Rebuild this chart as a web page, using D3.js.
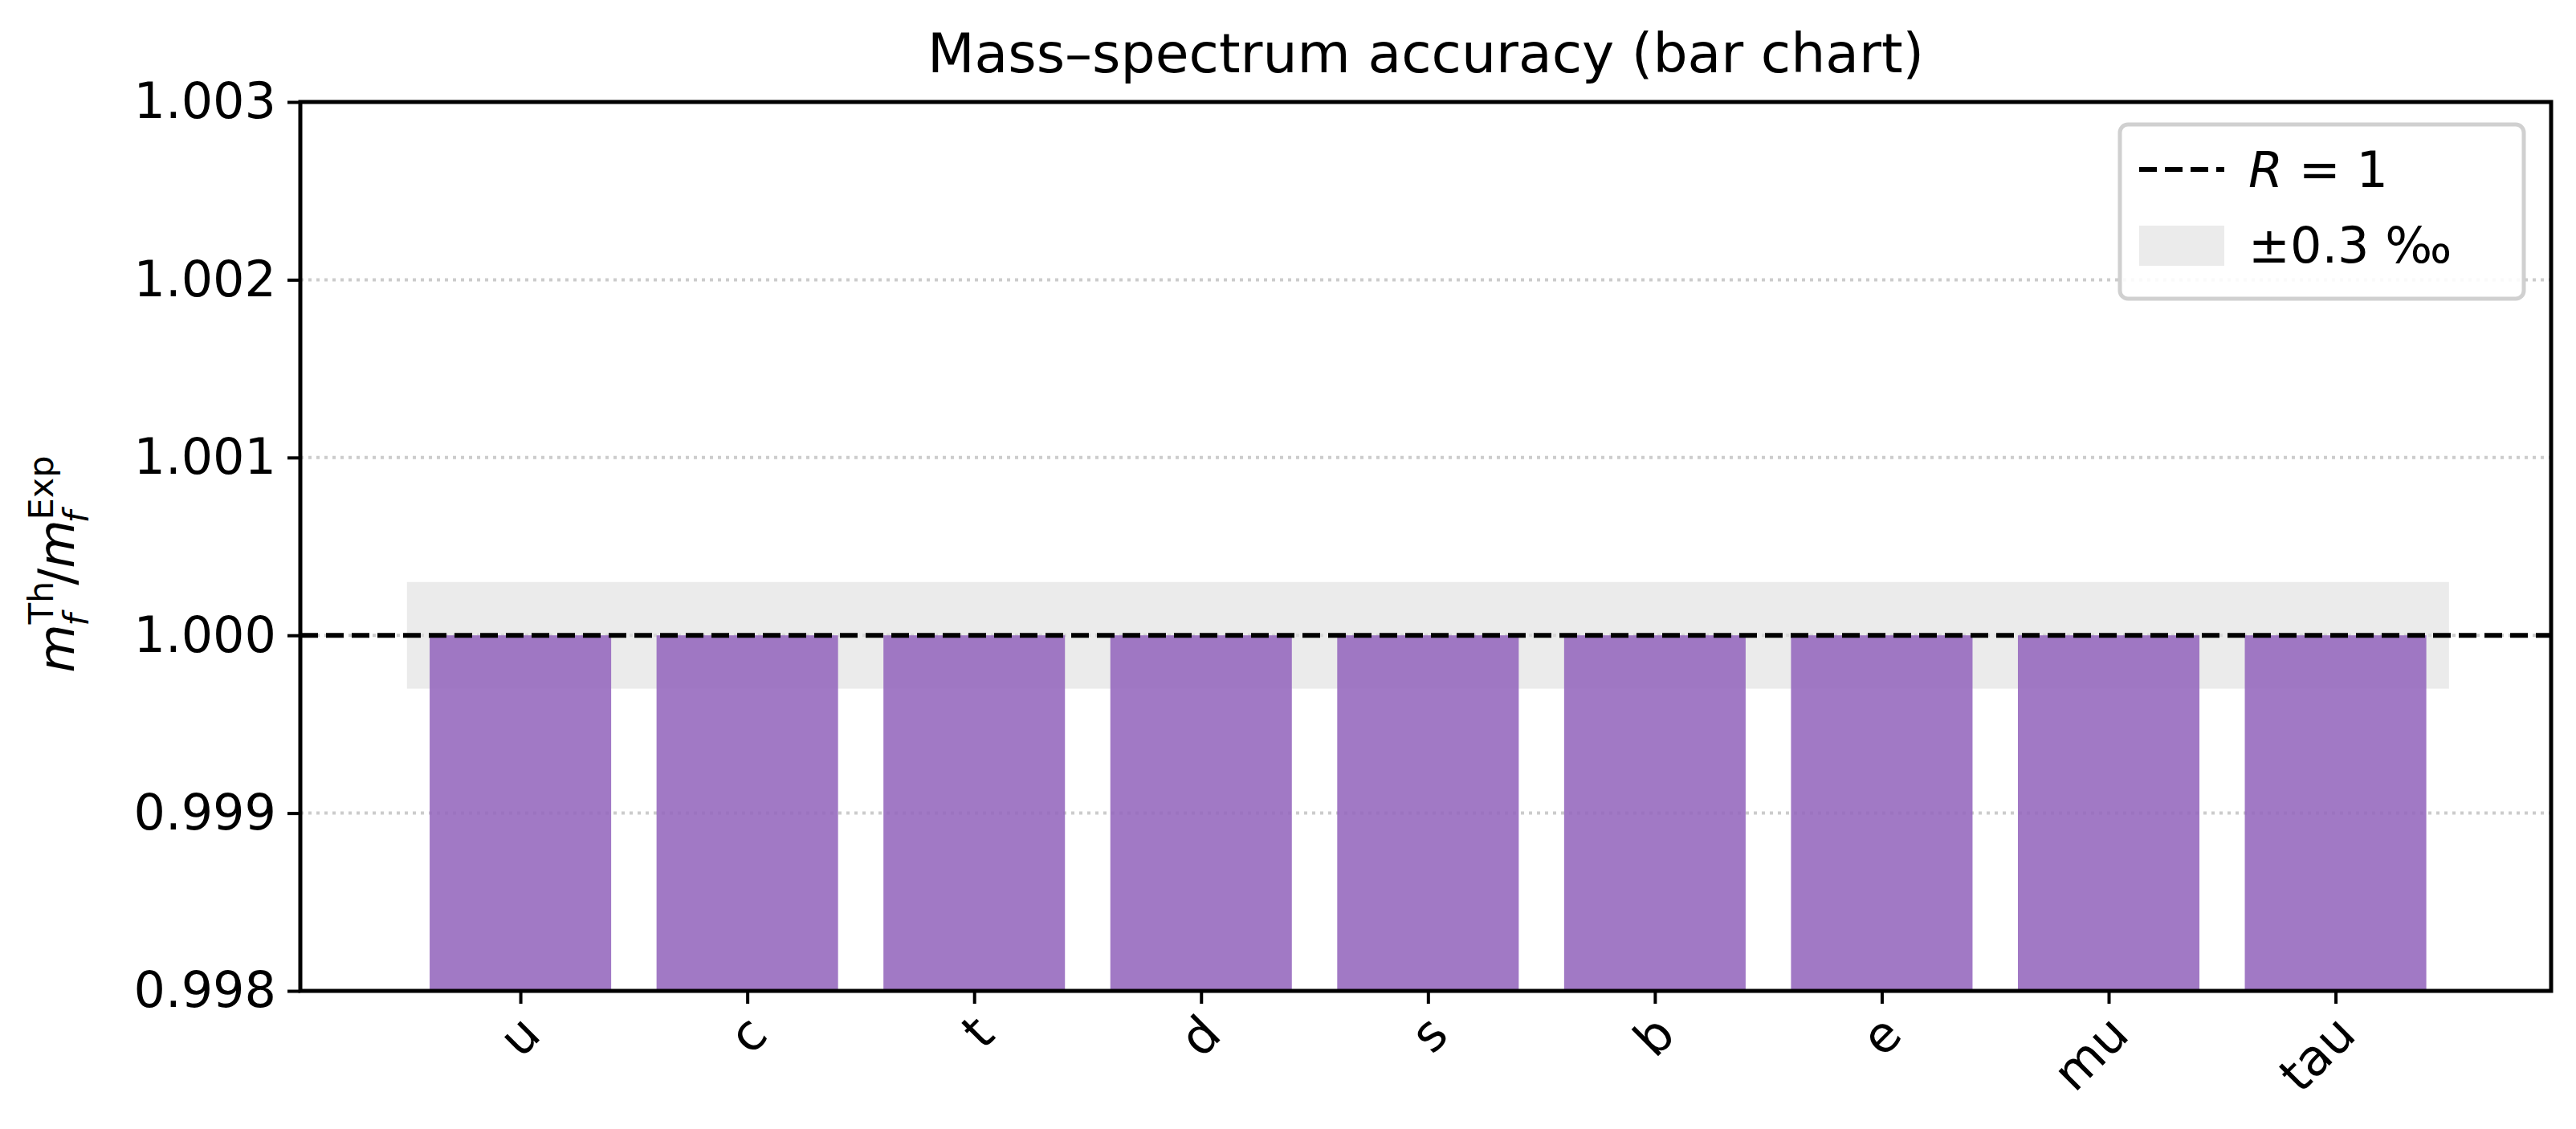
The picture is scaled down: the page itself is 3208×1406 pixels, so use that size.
<!DOCTYPE html>
<html><head><meta charset="utf-8">
<script src="https://cdn.jsdelivr.net/npm/d3@7"></script>
<style>body{margin:0;background:#fff}text{font-family:"DejaVu Sans",sans-serif}</style>
</head><body><div id="chart"></div>
<script>
// Data
const particles = ["u", "c", "t", "d", "s", "b", "e", "mu", "tau"];
const ratios = [1.0, 1.0, 1.0, 1.0, 1.0, 1.0, 1.0, 1.0, 1.0];
const yTicks = [0.998, 0.999, 1.000, 1.001, 1.002, 1.003];
const tolerance = 0.0003;

const W = 3208, H = 1406;
const margin = {left: 374, right: 31, top: 127, bottom: 172};
const width = W - margin.left - margin.right,
      height = H - margin.top - margin.bottom;

const svg = d3.select("#chart").append("svg").attr("width", W).attr("height", H);
const g = svg.append("g").attr("transform", `translate(${margin.left},${margin.top})`);

const x = d3.scaleLinear().domain([-0.97, 8.95]).range([0, width]);
const y = d3.scaleLinear().domain([0.998, 1.003]).range([height, 0]);

// grid
g.selectAll("line.grid").data(yTicks.slice(1, -1)).enter().append("line")
    .attr("x1", 0).attr("x2", width)
    .attr("y1", d => y(d)).attr("y2", d => y(d))
    .attr("stroke", "#ccc").attr("stroke-width", 4).attr("stroke-dasharray", "4,6");

// tolerance band
g.append("rect")
    .attr("x", x(-0.5)).attr("width", x(particles.length - 0.5) - x(-0.5))
    .attr("y", y(1 + tolerance)).attr("height", y(1 - tolerance) - y(1 + tolerance))
    .attr("fill", "#e0e0e0").attr("opacity", 0.65);

// bars
g.selectAll("rect.bar").data(ratios).enter().append("rect")
    .attr("x", (d, i) => x(i - 0.4)).attr("width", x(0.8) - x(0))
    .attr("y", d => y(d)).attr("height", d => height - y(d))
    .attr("fill", "#9467bd").attr("opacity", 0.88);

// R = 1 line
g.append("line").attr("x1", 0).attr("x2", width).attr("y1", y(1)).attr("y2", y(1))
    .attr("stroke", "#000").attr("stroke-width", 6).attr("stroke-dasharray", "22,10");

// axes
const yAxis = g.append("g").call(d3.axisLeft(y).tickValues(yTicks).tickFormat(d3.format(".3f")).tickSize(16).tickPadding(14));
yAxis.selectAll("text").attr("font-size", 62).attr("fill", "#000");
const xAxis = g.append("g").attr("transform", `translate(0,${height})`)
    .call(d3.axisBottom(x).tickValues(d3.range(particles.length)).tickFormat(i => particles[i]).tickSize(16));
xAxis.selectAll("text").attr("font-size", 62).attr("fill", "#000")
    .attr("text-anchor", "end").attr("dx", 0).attr("dy", 0)
    .attr("transform", "translate(14,44) rotate(-45)");
g.selectAll(".domain").remove();
g.selectAll(".tick line").attr("stroke-width", 4);
g.append("rect").attr("width", width).attr("height", height)
    .attr("fill", "none").attr("stroke", "#000").attr("stroke-width", 5);

// title
svg.append("text").attr("x", margin.left + width / 2).attr("y", 90)
    .attr("text-anchor", "middle").attr("font-size", 68).text("Mass\u2013spectrum accuracy (bar chart)");

// y label
const yl = svg.append("text").attr("transform", `translate(92,${margin.top + y(1.0004)}) rotate(-90)`)
    .attr("text-anchor", "middle").attr("font-size", 62);
yl.append("tspan").attr("font-style", "italic").text("m");
yl.append("tspan").attr("font-size", 43).attr("dy", -26).text("Th");
yl.append("tspan").attr("font-size", 43).attr("font-style", "italic").attr("dy", 44).attr("dx", -56).text("f");
yl.append("tspan").attr("dy", -18).attr("dx", 36).text("/");
yl.append("tspan").attr("font-style", "italic").text("m");
yl.append("tspan").attr("font-size", 43).attr("dy", -26).text("Exp");
yl.append("tspan").attr("font-size", 43).attr("font-style", "italic").attr("dy", 44).attr("dx", -84).text("f");

// legend
const lg = svg.append("g").attr("transform", "translate(2640,155)");
lg.append("rect").attr("width", 503).attr("height", 217).attr("rx", 10)
    .attr("fill", "#fff").attr("stroke", "#ccc").attr("stroke-width", 5).attr("opacity", 0.9);
lg.append("line").attr("x1", 24).attr("x2", 130).attr("y1", 56).attr("y2", 56)
    .attr("stroke", "#000").attr("stroke-width", 6).attr("stroke-dasharray", "22,10");
const t1 = lg.append("text").attr("x", 160).attr("y", 78).attr("font-size", 62);
t1.append("tspan").attr("font-style", "italic").text("R");
t1.append("tspan").text(" = 1");
lg.append("rect").attr("x", 24).attr("y", 126).attr("width", 106).attr("height", 50).attr("fill", "#e0e0e0").attr("opacity", 0.65);
lg.append("text").attr("x", 160).attr("y", 172).attr("font-size", 62).text("\u00b10.3 \u2030");
</script></body></html>
